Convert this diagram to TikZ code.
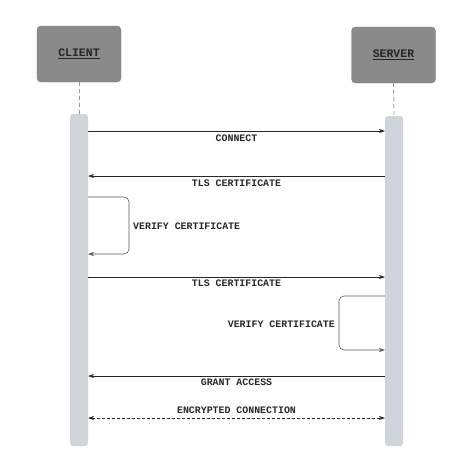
\documentclass[tikz,border=0pt]{standalone}
\usepackage{fontspec}
\setmonofont{Liberation Mono}
\usetikzlibrary{arrows.meta}
\definecolor{boxgrey}{HTML}{8A8A8A}
\definecolor{bargrey}{HTML}{D0D5DC}
\definecolor{ink}{HTML}{262626}
\tikzset{
  actor/.style={draw=boxgrey!90!black, fill=boxgrey, rounded corners=4pt, minimum width=84pt, minimum height=56pt, inner sep=0pt, font=\ttfamily\bfseries\fontsize{11.5}{13}\selectfont, text=ink},
  lifebar/.style={fill=bargrey, draw=none, rounded corners=3pt},
  life/.style={draw=gray!80, dashed, dash pattern=on 4pt off 3pt, line width=0.8pt},
  msg/.style={draw=ink, line width=0.7pt, -{Stealth[length=6pt,width=4pt]}},
  dmsg/.style={draw=ink, line width=0.7pt, dash pattern=on 3pt off 2pt, {Stealth[length=6pt,width=4pt]}-{Stealth[length=6pt,width=4pt]}},
  loopmsg/.style={draw=gray!70!black, line width=0.6pt, rounded corners=5pt, -{Stealth[length=6pt,width=4pt]}},
  lbl/.style={font=\ttfamily\bfseries\fontsize{9.9}{11}\selectfont, text=ink, inner sep=0pt}
}
\begin{document}
\begin{tikzpicture}[x=1pt,y=-1pt]
\useasboundingbox (0,0) rectangle (474,475);
% actors
\node[actor] (client) at (79,54) {\underline{CLIENT}};
\node[actor] (server) at (393.5,55) {\underline{SERVER}};
% bars
\node[lifebar, minimum width=18pt, minimum height=332pt, inner sep=0pt] (cbar) at (79,280) {};
\node[lifebar, minimum width=18pt, minimum height=330pt, inner sep=0pt] (sbar) at (394,281) {};
% lifelines
\draw[life] (client.south) -- (cbar.north);
\draw[life] (server.south) -- (sbar.north);
% coordinates on bars
\coordinate (c1) at (88,131); \coordinate (s1) at (385,131);
\coordinate (c2) at (88,176); \coordinate (s2) at (385,176);
\coordinate (c3a) at (88,197); \coordinate (c3b) at (88,254);
\coordinate (c4) at (88,277); \coordinate (s4) at (385,277);
\coordinate (s5a) at (385,296); \coordinate (s5b) at (385,350);
\coordinate (c6) at (88,376); \coordinate (s6) at (385,376);
\coordinate (c7) at (88,418); \coordinate (s7) at (385,418);
% messages
\draw[msg] (c1) -- (s1);
\node[lbl] (l1) at (236.5,138) {CONNECT};
\draw[msg] (s2) -- (c2);
\node[lbl] (l2) at (236.5,183) {TLS CERTIFICATE};
\draw[loopmsg] (c3a) -- (129,197) -- (129,254) -- (c3b);
\node[lbl, anchor=west] (l3) at (133,226) {VERIFY CERTIFICATE};
\draw[msg] (c4) -- (s4);
\node[lbl] (l4) at (236.5,283) {TLS CERTIFICATE};
\draw[loopmsg] (s5a) -- (339,296) -- (339,350) -- (s5b);
\node[lbl, anchor=east] (l5) at (335,324) {VERIFY CERTIFICATE};
\draw[msg] (s6) -- (c6);
\node[lbl] (l6) at (236.5,382) {GRANT ACCESS};
\draw[dmsg] (c7) -- (s7);
\node[lbl] (l7) at (236.5,410) {ENCRYPTED CONNECTION};
\end{tikzpicture}
\end{document}
